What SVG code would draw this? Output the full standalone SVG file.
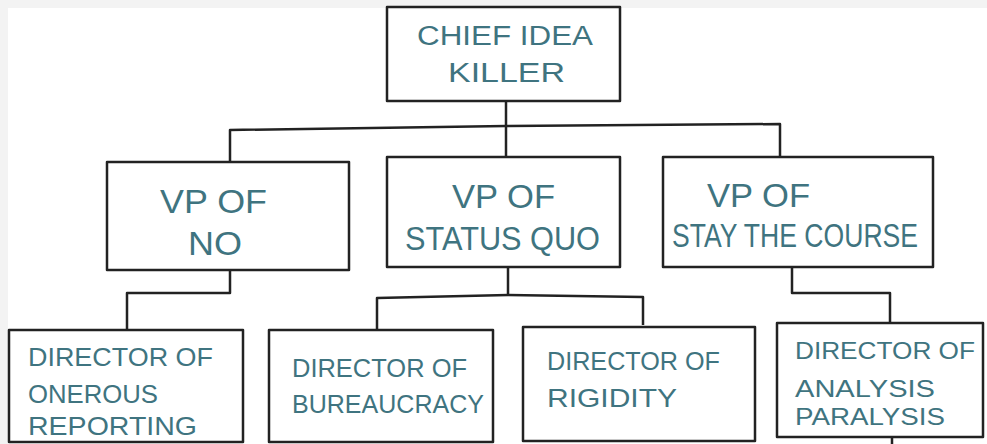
<svg xmlns="http://www.w3.org/2000/svg" width="987" height="444" viewBox="0 0 987 444">
<style>
.box{fill:#ffffff;stroke:#222;stroke-width:2.5;stroke-linejoin:round}
.con{fill:none;stroke:#222;stroke-width:2.5;stroke-linejoin:round}
.t{font-family:"Liberation Sans",Arial,sans-serif;fill:#3f7480}
.c{font-size:27px}
.v{font-size:33px}
.d{font-size:26px}
.e{font-size:24px}
</style>
<rect x="0" y="0" width="987" height="444" fill="#f3f3f3"/>
<rect x="8" y="8" width="979" height="436" fill="#ffffff"/>
<g id="connectors">
<path class="con" d="M506 101 V157"/>
<path class="con" d="M230 162 V130 L506 126 L780 124 V157"/>
<path class="con" d="M230 270 V293 H127 V330"/>
<path class="con" d="M508 267 V294"/>
<path class="con" d="M377 330 V298 L508 295 L643 297 V325"/>
<path class="con" d="M792 267 V293 H890 V323"/>
<path class="con" d="M892 438 V444"/>
</g>
<g id="chief">
<rect class="box" x="387" y="7" width="233" height="94"/>
<text class="t c" x="417" y="45" textLength="176" lengthAdjust="spacingAndGlyphs">CHIEF IDEA</text>
<text class="t c" x="448" y="82" textLength="117" lengthAdjust="spacingAndGlyphs">KILLER</text>
</g>
<g id="vp-no">
<rect class="box" x="107" y="162" width="242" height="108"/>
<text class="t v" x="160" y="213" textLength="107" lengthAdjust="spacingAndGlyphs">VP  OF</text>
<text class="t v" x="188" y="255" textLength="54" lengthAdjust="spacingAndGlyphs">NO</text>
</g>
<g id="vp-status-quo">
<rect class="box" x="387" y="157" width="233" height="110"/>
<text class="t v" x="452" y="208" textLength="103" lengthAdjust="spacingAndGlyphs">VP OF</text>
<text class="t v" x="405" y="250" textLength="195" lengthAdjust="spacingAndGlyphs">STATUS QUO</text>
</g>
<g id="vp-stay-the-course">
<rect class="box" x="663" y="157" width="270" height="110"/>
<text class="t v" x="707" y="207" textLength="103" lengthAdjust="spacingAndGlyphs">VP OF</text>
<text class="t v" x="672" y="247" textLength="246" lengthAdjust="spacingAndGlyphs">STAY THE COURSE</text>
</g>
<g id="dir-onerous-reporting">
<rect class="box" x="9" y="330" width="234" height="112"/>
<text class="t d" x="28" y="366" textLength="185" lengthAdjust="spacingAndGlyphs">DIRECTOR OF</text>
<text class="t d" x="28" y="403" textLength="130" lengthAdjust="spacingAndGlyphs">ONEROUS</text>
<text class="t d" x="28" y="435" textLength="169" lengthAdjust="spacingAndGlyphs">REPORTING</text>
</g>
<g id="dir-bureaucracy">
<rect class="box" x="269" y="330" width="224" height="112"/>
<text class="t d" x="292" y="377" textLength="175" lengthAdjust="spacingAndGlyphs">DIRECTOR OF</text>
<text class="t d" x="292" y="413" textLength="192" lengthAdjust="spacingAndGlyphs">BUREAUCRACY</text>
</g>
<g id="dir-rigidity">
<rect class="box" x="523" y="327" width="232" height="114"/>
<text class="t d" x="547" y="370" textLength="173" lengthAdjust="spacingAndGlyphs">DIRECTOR OF</text>
<text class="t d" x="547" y="407" textLength="130" lengthAdjust="spacingAndGlyphs">RIGIDITY</text>
</g>
<g id="dir-analysis-paralysis">
<rect class="box" x="777" y="323" width="206" height="114"/>
<text class="t e" x="795" y="359" textLength="180" lengthAdjust="spacingAndGlyphs">DIRECTOR OF</text>
<text class="t e" x="795" y="397" textLength="140" lengthAdjust="spacingAndGlyphs">ANALYSIS</text>
<text class="t e" x="795" y="425" textLength="150" lengthAdjust="spacingAndGlyphs">PARALYSIS</text>
</g>
</svg>
